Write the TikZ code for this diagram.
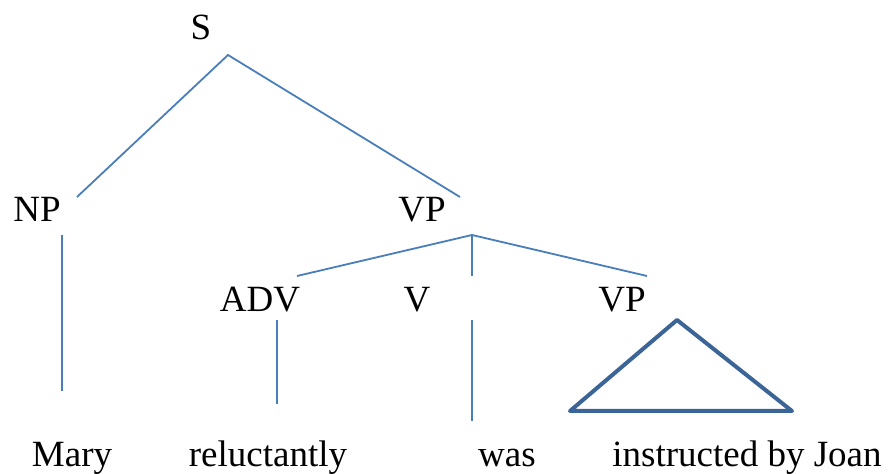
\documentclass[tikz,border=0pt]{standalone}
\usepackage{fontspec}
\setmainfont{Liberation Serif}
\tikzset{>=latex}
\definecolor{branch}{HTML}{4A7EBB}
\definecolor{roof}{HTML}{3B6497}
\tikzset{cat/.style={anchor=base,inner sep=0pt,font=\fontsize{18.5}{20}\selectfont}}
\tikzset{edge/.style={draw=branch,line width=0.9pt}}

\begin{document}
\begin{tikzpicture}[x=0.5pt,y=-0.5pt]
	\useasboundingbox (0,0) rectangle (889,474);

	% Kategorien
	\node[cat] (s) at (201,40) {S};
	\node[cat] (np) at (37,222) {NP};
	\node[cat] (vp) at (422,222) {VP};
	\node[cat] (adv) at (260,312) {ADV};
	\node[cat] (v) at (417,312) {V};
	\node[cat] (vp2) at (622,312) {VP};

	% Woerter
	\foreach \name/\x/\txt in {mary/72/Mary,rel/268/reluctantly,was/507/was,joan/747/instructed by Joan} {{
		\node[cat] (\name) at (\x,467) {\txt};
	}}

	% Enden der Aeste
	\coordinate (s-b) at (228,55);
	\coordinate (np-t) at (77,197);
	\coordinate (vp-t) at (460,197);
	\coordinate (np-b) at (62,235);
	\coordinate (mary-t) at (62,391);
	\coordinate (vp-b) at (472,235);
	\coordinate (adv-t) at (297,276);
	\coordinate (v-t) at (472,276);
	\coordinate (vp2-t) at (647,276);
	\coordinate (adv-b) at (277,320);
	\coordinate (rel-t) at (277,404);
	\coordinate (v-b) at (472,320);
	\coordinate (was-t) at (472,421);
	\coordinate (vp2-b) at (677,320);
	\coordinate (roof-l) at (570,411);
	\coordinate (roof-r) at (792,411);

	\draw[edge] (np-t) -- (s-b) -- (vp-t);
	\draw[edge] (np-b) -- (mary-t);
	\draw[edge] (adv-t) -- (vp-b) -- (vp2-t);
	\draw[edge] (vp-b) -- (v-t);
	\draw[edge] (adv-b) -- (rel-t);
	\draw[edge] (v-b) -- (was-t);

	% Dreieck
	\draw[roof,line width=2pt,line join=round,line cap=round] (vp2-b) -- (roof-r) -- (roof-l) -- cycle;
\end{tikzpicture}
\end{document}
